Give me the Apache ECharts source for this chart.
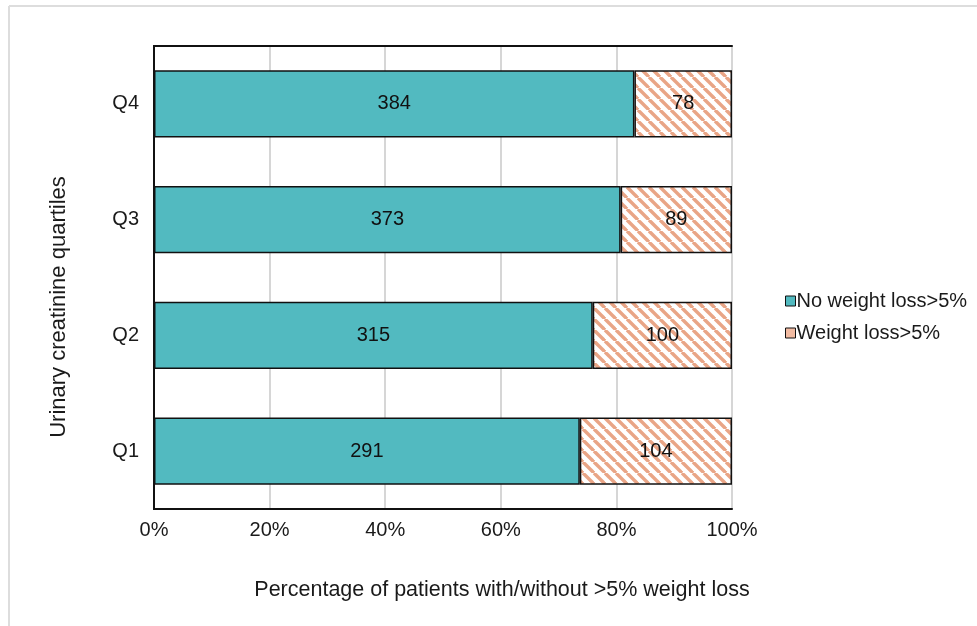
<!DOCTYPE html>
<html>
<head>
<meta charset="utf-8">
<script src="https://cdn.jsdelivr.net/npm/echarts@6/dist/echarts.min.js"></script>
<style>
html,body{margin:0;padding:0;background:#fff;}
#main{width:977px;height:626px;}
</style>
</head>
<body>
<div id="main"></div>
<script>
const categories = ['Q1', 'Q2', 'Q3', 'Q4'];
const noLossCounts = [291, 315, 373, 384];
const lossCounts = [104, 100, 89, 78];
const xTickLabels = ['0%', '20%', '40%', '60%', '80%', '100%'];
const seriesNames = ['No weight loss>5%', 'Weight loss>5%'];

const totals = noLossCounts.map((v, i) => v + lossCounts[i]);
const noLossPct = noLossCounts.map((v, i) => ({ value: v / totals[i] * 100, count: v }));
const lossPct = lossCounts.map((v, i) => ({ value: v / totals[i] * 100, count: v }));

// hatch pattern
const S = 11;
const pc = document.createElement('canvas');
pc.width = S; pc.height = S;
const ctx = pc.getContext('2d');
ctx.fillStyle = '#ffffff';
ctx.fillRect(0, 0, S, S);
ctx.strokeStyle = '#E9A586';
ctx.lineWidth = 3.4;
for (const off of [-S, 0, S]) {
  ctx.beginPath();
  ctx.moveTo(off, 0);
  ctx.lineTo(off + S, S);
  ctx.stroke();
}

const font = 'Liberation Sans, Arial, Helvetica, sans-serif';
const borderLine = { show: true, lineStyle: { color: '#111', width: 2 } };
const chart = echarts.init(document.getElementById('main'));
chart.setOption({
  animation: false,
  backgroundColor: '#fff',
  textStyle: { fontFamily: font },
  grid: { left: 154, right: 245, top: 46, bottom: 117 },
  xAxis: [
    {
      type: 'value', min: 0, max: 100, interval: 20,
      axisLine: borderLine,
      axisTick: { show: false },
      splitLine: { show: true, lineStyle: { color: '#c8c8c8', width: 1.5 } },
      axisLabel: {
        margin: 11, fontSize: 20, color: '#1a1a1a', fontFamily: font,
        formatter: v => xTickLabels[Math.round(v / 20)]
      }
    },
    {
      type: 'value', min: 0, max: 100, position: 'top',
      axisLine: borderLine, axisTick: { show: false },
      splitLine: { show: false }, axisLabel: { show: false }
    }
  ],
  yAxis: [
    {
      type: 'category', data: categories,
      axisLine: borderLine,
      axisTick: { show: false },
      axisLabel: { margin: 15, fontSize: 20, color: '#1a1a1a', fontFamily: font }
    },
    {
      type: 'category', data: categories, position: 'right',
      axisLine: borderLine, axisTick: { show: false },
      axisLabel: { show: false }
    }
  ],
  legend: {
    orient: 'vertical', left: 780, top: 286,
    itemWidth: 10, itemHeight: 10, itemGap: 12,
    icon: 'rect',
    textStyle: { fontSize: 20, color: '#1a1a1a', fontFamily: font, padding: [0, 0, 0, -4] },
    data: [
      { name: seriesNames[0], itemStyle: { color: '#52BAC0', borderColor: '#111', borderWidth: 1 } },
      { name: seriesNames[1], itemStyle: { color: '#F2BBA2', borderColor: '#111', borderWidth: 1 } }
    ]
  },
  series: [
    {
      name: seriesNames[0], type: 'bar', stack: 'a', barWidth: '58%',
      data: noLossPct,
      itemStyle: { color: '#52BAC0', borderColor: '#111', borderWidth: 1.5 },
      label: { show: true, position: 'inside', color: '#111', fontSize: 20, fontFamily: font,
        formatter: p => p.data.count }
    },
    {
      name: seriesNames[1], type: 'bar', stack: 'a', barWidth: '58%',
      data: lossPct,
      itemStyle: { color: { image: pc, repeat: 'repeat' }, borderColor: '#111', borderWidth: 1.5 },
      label: { show: true, position: 'inside', color: '#111', fontSize: 20, fontFamily: font,
        formatter: p => p.data.count }
    }
  ],
  graphic: [
    { type: 'line', shape: { x1: 9, y1: 6, x2: 977, y2: 6 }, style: { stroke: '#dddddd', lineWidth: 2 } },
    { type: 'line', shape: { x1: 9, y1: 6, x2: 9, y2: 626 }, style: { stroke: '#dddddd', lineWidth: 2 } },
    { type: 'text', x: 502, y: 590, style: { text: 'Percentage of patients with/without >5% weight loss',
        fontSize: 21.5, fill: '#1a1a1a', fontFamily: font, align: 'center', verticalAlign: 'middle' } },
    { type: 'text', x: 59, y: 307, rotation: Math.PI / 2, style: { text: 'Urinary creatinine quartiles',
        fontSize: 22, fill: '#1a1a1a', fontFamily: font, align: 'center', verticalAlign: 'middle' } }
  ]
});
</script>
</body>
</html>
